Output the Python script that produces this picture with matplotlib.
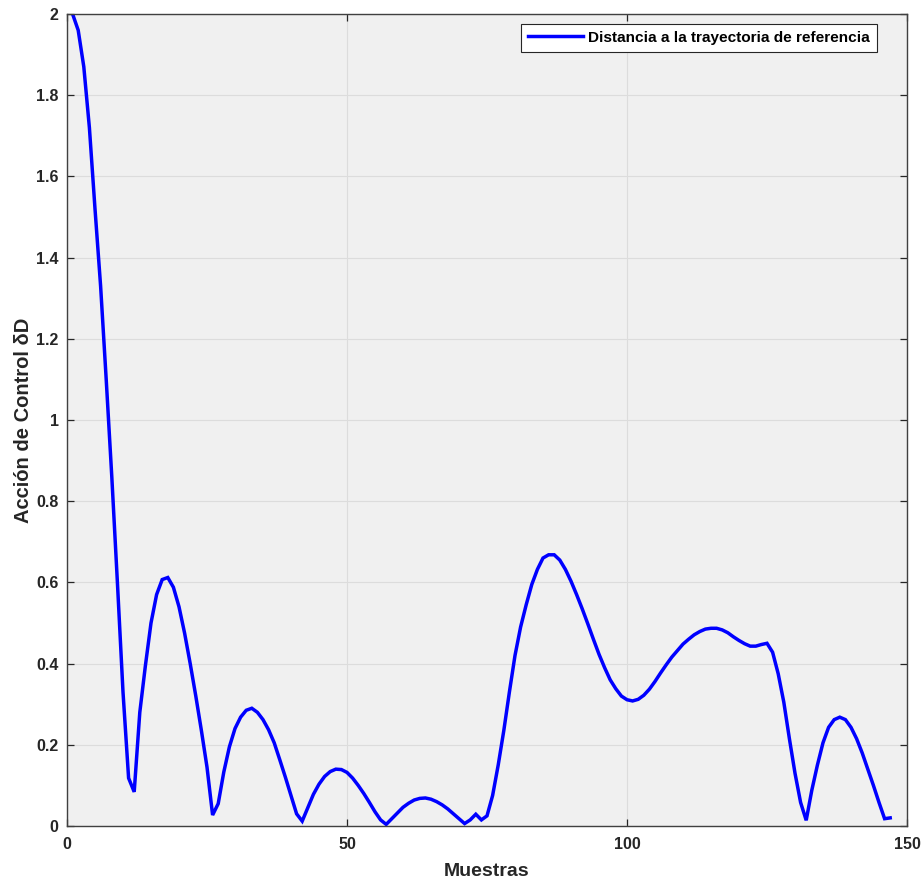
import numpy as np
import matplotlib
matplotlib.use("Agg")
import matplotlib.pyplot as plt

# Control action: distance to the reference trajectory, one value per sample
muestras = np.arange(1, 148)
distancia = [
    2.00, 1.96, 1.87, 1.72, 1.52, 1.33, 1.10, 0.86, 0.60, 0.33,
    0.118, 0.084, 0.28, 0.395, 0.50, 0.57, 0.607, 0.612, 0.588, 0.54,
    0.475, 0.40, 0.32, 0.235, 0.145, 0.027, 0.055, 0.133, 0.195, 0.24,
    0.268, 0.285, 0.29, 0.28, 0.262, 0.237, 0.205, 0.163, 0.12, 0.075,
    0.03, 0.012, 0.045, 0.078, 0.103, 0.122, 0.134, 0.14, 0.139, 0.132,
    0.118, 0.10, 0.08, 0.058, 0.035, 0.015, 0.004, 0.018, 0.032, 0.046,
    0.056, 0.064, 0.068, 0.069, 0.066, 0.06, 0.052, 0.042, 0.03, 0.018,
    0.006, 0.015, 0.029, 0.015, 0.025, 0.075, 0.15, 0.235, 0.33, 0.42,
    0.49, 0.545, 0.595, 0.632, 0.66, 0.668, 0.668, 0.655, 0.632, 0.603,
    0.57, 0.535, 0.498, 0.46, 0.423, 0.39, 0.36, 0.338, 0.32, 0.311,
    0.308, 0.312, 0.322, 0.337, 0.356, 0.377, 0.397, 0.416, 0.432, 0.448,
    0.46, 0.471, 0.479, 0.485, 0.487, 0.487, 0.483, 0.476, 0.466, 0.457,
    0.449, 0.443, 0.443, 0.447, 0.45, 0.428, 0.375, 0.305, 0.215, 0.13,
    0.058, 0.014, 0.088, 0.15, 0.205, 0.243, 0.262, 0.268, 0.262, 0.243,
    0.215, 0.18, 0.14, 0.10, 0.058, 0.018, 0.02,
]
xticks = [0, 50, 100, 150]
yticks = [0, 0.2, 0.4, 0.6, 0.8, 1.0, 1.2, 1.4, 1.6, 1.8, 2.0]
ytick_labels = ["0", "0.2", "0.4", "0.6", "0.8", "1", "1.2", "1.4", "1.6", "1.8", "2"]

text_color = "#262626"
plt.rcParams["font.family"] = ["Liberation Sans", "DejaVu Sans"]
plt.rcParams["font.weight"] = "bold"

fig = plt.figure(figsize=(9.23, 8.81), dpi=100)
ax = fig.add_axes([67 / 923, 55 / 881, 840 / 923, 812 / 881])
ax.set_facecolor("#f0f0f0")

ax.plot(muestras, distancia, color="#0000ff", linewidth=2.5,
        label="Distancia a la trayectoria de referencia", solid_joinstyle="miter")

ax.set_xlim(0, 150)
ax.set_ylim(0, 2)
ax.set_xticks(xticks)
ax.set_yticks(yticks)
ax.set_yticklabels(ytick_labels)

ax.grid(True, color="#dcdcdc", linewidth=0.8)
ax.set_axisbelow(True)

for side in ax.spines.values():
    side.set_color("#404040")
    side.set_linewidth(1.0)

ax.tick_params(axis="both", direction="in", length=5, width=0.9,
               colors=text_color, labelsize=11.5, top=True, right=True)
ax.tick_params(axis="x", pad=8)
ax.tick_params(axis="y", pad=6)
for lbl in ax.get_xticklabels() + ax.get_yticklabels():
    lbl.set_fontweight("bold")

ax.set_xlabel("Muestras", fontsize=14, fontweight="bold", color=text_color, labelpad=8)
ax.set_ylabel("Acción de Control δD", fontsize=14.5, fontweight="bold", color=text_color, labelpad=2)

leg = ax.legend(loc="upper right", bbox_to_anchor=(0.964, 0.988), fontsize=11.1,
                frameon=True, fancybox=False, edgecolor="#262626", facecolor="white",
                framealpha=1.0, handlelength=3.6, borderpad=0.45, handletextpad=0.3,
                borderaxespad=0.0)
leg.get_frame().set_linewidth(0.8)
for t in leg.get_texts():
    t.set_fontweight("bold")
    t.set_color("black")

fig.savefig("out.png", dpi=100, facecolor="white")
